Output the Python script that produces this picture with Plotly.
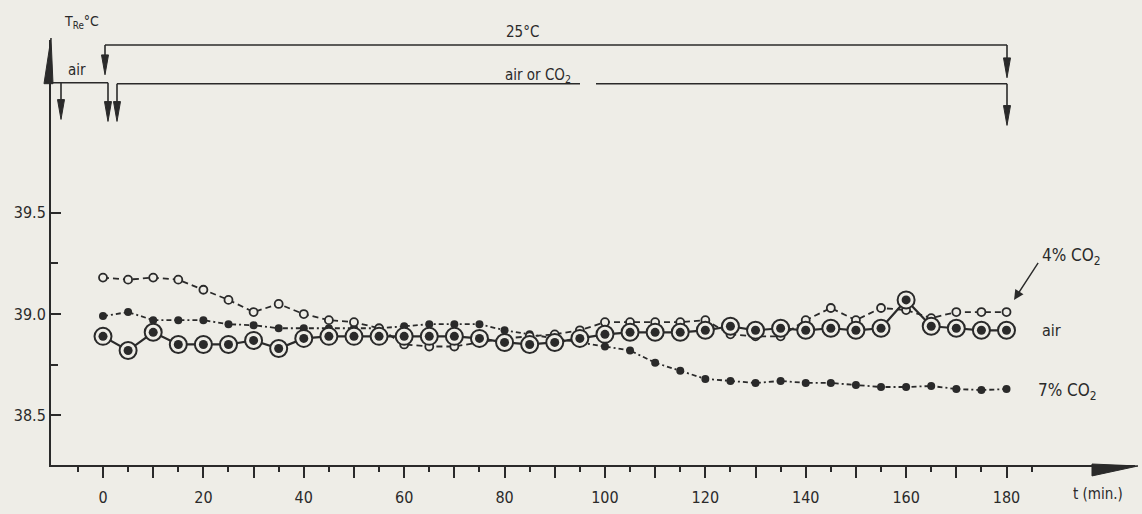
import plotly.graph_objects as go

# ---------------- data ----------------
t_min = [0, 5, 10, 15, 20, 25, 30, 35, 40, 45, 50, 55, 60, 65, 70, 75, 80, 85,
         90, 95, 100, 105, 110, 115, 120, 125, 130, 135, 140, 145, 150, 155,
         160, 165, 170, 175, 180]

temp_air = [38.89, 38.82, 38.91, 38.85, 38.85, 38.85, 38.87, 38.83, 38.88, 38.89,
            38.89, 38.89, 38.89, 38.89, 38.89, 38.88, 38.86, 38.85, 38.86, 38.88,
            38.90, 38.91, 38.91, 38.91, 38.92, 38.94, 38.92, 38.93, 38.92, 38.93,
            38.92, 38.93, 39.07, 38.94, 38.93, 38.92, 38.92]

temp_co2_4 = [39.18, 39.17, 39.18, 39.17, 39.12, 39.07, 39.01, 39.05, 39.00, 38.97,
              38.96, 38.93, 38.85, 38.84, 38.84, 38.86, 38.88, 38.89, 38.90, 38.92,
              38.96, 38.96, 38.96, 38.96, 38.97, 38.90, 38.89, 38.89, 38.97, 39.03,
              38.97, 39.03, 39.02, 38.98, 39.01, 39.01, 39.01]

temp_co2_7 = [38.99, 39.01, 38.97, 38.97, 38.97, 38.95, 38.945, 38.93, 38.93, 38.93,
              38.93, 38.93, 38.94, 38.95, 38.95, 38.95, 38.92, 38.90, 38.88, 38.86,
              38.84, 38.82, 38.76, 38.72, 38.68, 38.67, 38.66, 38.67, 38.66, 38.66,
              38.65, 38.64, 38.64, 38.645, 38.63, 38.625, 38.63]

x_major_ticks = [0, 10, 20, 30, 40, 50, 60, 70, 80, 90, 100, 110, 120, 130, 140,
                 150, 160, 170, 180]
x_major_text = ["0", "", "20", "", "40", "", "60", "", "80", "", "100", "", "120",
                "", "140", "", "160", "", "180"]
x_minor_ticks = [-5, 5, 15, 25, 35, 45, 55, 65, 75, 85, 95, 105, 115, 125, 135,
                 145, 155, 165, 175, 185]
y_major_ticks = [38.5, 39.0, 39.5]
y_major_text = ["38.5", "39.0", "39.5"]
y_minor_ticks = [38.75, 39.25]

# ---------------- style ----------------
INK = "#2a2a2a"
PAPER = "#eeede7"
FONT = "DejaVu Sans Condensed, DejaVu Sans, sans-serif"

W, H = 1142, 514
ML, MR, MT, MB = 51, 7, 40, 46
PW, PH = W - ML - MR, H - MT - MB


def px(x):
    return (x - ML) / PW


def py(y):
    return (H - MB - y) / PH


fig = go.Figure()

# 7 % CO2 : filled dots, dash-dot line
fig.add_trace(go.Scatter(
    x=t_min, y=temp_co2_7, mode="lines+markers", name="7% CO2",
    line=dict(color=INK, width=1.8, dash="5px,3px,2px,3px"),
    marker=dict(symbol="circle", size=8, color=INK),
))

# 4 % CO2 : small open circles, dashed line
fig.add_trace(go.Scatter(
    x=t_min, y=temp_co2_4, mode="lines+markers", name="4% CO2",
    line=dict(color=INK, width=1.8, dash="6px,4px"),
    marker=dict(symbol="circle", size=8, color=PAPER,
                line=dict(color=INK, width=1.8)),
))

# air : bull's-eye circles, solid line
fig.add_trace(go.Scatter(
    x=t_min, y=temp_air, mode="lines+markers", name="air",
    line=dict(color=INK, width=2.2),
    marker=dict(symbol="circle", size=17, color=PAPER,
                line=dict(color=INK, width=2)),
))
fig.add_trace(go.Scatter(
    x=t_min, y=temp_air, mode="markers", name="air (centre)",
    marker=dict(symbol="circle", size=9, color=INK),
    hoverinfo="skip",
))

shapes = []
annotations = []


def hline(x0, x1, y, w=1.6):
    shapes.append(dict(type="line", xref="paper", yref="paper",
                       x0=px(x0), x1=px(x1), y0=py(y), y1=py(y),
                       line=dict(color=INK, width=w)))


def drop_arrow(x, y0, y1):
    # vertical shaft and narrow filled wedge head (pixel positions -> paper)
    head = 20
    shapes.append(dict(type="line", xref="paper", yref="paper",
                       x0=px(x), x1=px(x), y0=py(y0), y1=py(y1 - head + 2),
                       line=dict(color=INK, width=1.6)))
    path = "M {:.5f},{:.5f} L {:.5f},{:.5f} L {:.5f},{:.5f} Z".format(
        px(x - 3.5), py(y1 - head), px(x + 3.5), py(y1 - head), px(x), py(y1))
    shapes.append(dict(type="path", xref="paper", yref="paper", path=path,
                       fillcolor=INK, line=dict(color=INK, width=1)))


# 25 °C bracket
hline(105, 1007, 45)
drop_arrow(105, 45, 75)
drop_arrow(1007, 45, 78)
# air / air or CO2 bracket
hline(51, 108, 83)
drop_arrow(61, 83, 120)
drop_arrow(108, 83, 122)
hline(117, 580, 84)
hline(596, 1007, 84)
drop_arrow(117, 84, 122)
drop_arrow(1007, 84, 126)

# axis arrow heads
shapes.append(dict(type="path", xref="paper", yref="paper",
                   path="M {:.5f},{:.5f} L {:.5f},{:.5f} L {:.5f},{:.5f} Z".format(
                       px(44), py(84), px(53), py(84), px(51), py(38)),
                   fillcolor=INK, line=dict(color=INK, width=1)))
shapes.append(dict(type="path", xref="paper", yref="paper",
                   path="M {:.5f},{:.5f} L {:.5f},{:.5f} L {:.5f},{:.5f} Z".format(
                       px(1092), py(467), px(1092), py(479), px(1138), py(469)),
                   fillcolor=INK, line=dict(color=INK, width=1)))


def label(text, x, y, xanchor="center", yanchor="middle", size=15):
    annotations.append(dict(text=text, xref="paper", yref="paper",
                            x=px(x), y=py(y), xanchor=xanchor, yanchor=yanchor,
                            showarrow=False,
                            font=dict(family=FONT, size=size, color=INK)))


label("T<sub>Re</sub>°C", 62, 22, xanchor="left", size=14)
label("25°C", 522, 32)
label("air", 66, 70, xanchor="left")
label("air or CO<sub>2</sub>", 538, 76)
label("4% CO<sub>2</sub>", 1040, 258, xanchor="left", size=17)
label("air", 1040, 333, xanchor="left", size=16)
label("7% CO<sub>2</sub>", 1036, 394, xanchor="left", size=17)
label("t (min.)", 1098, 497, size=15)

# arrow pointing to the 4 % CO2 curve
annotations.append(dict(text="", x=181.5, y=39.07, ax=186.5, ay=39.26,
                        xref="x", yref="y", axref="x", ayref="y",
                        showarrow=True, arrowhead=2, arrowsize=1.4,
                        arrowwidth=1.4, arrowcolor=INK, standoff=0))

fig.update_layout(
    width=W, height=H, autosize=False,
    margin=dict(l=ML, r=MR, t=MT, b=MB, pad=0),
    paper_bgcolor=PAPER, plot_bgcolor=PAPER,
    showlegend=False,
    font=dict(family=FONT, color=INK, size=14),
    shapes=shapes, annotations=annotations,
    xaxis=dict(
        range=[-10.36, 205.6], showgrid=False, zeroline=False,
        showline=True, linecolor=INK, linewidth=2,
        tickmode="array", tickvals=x_major_ticks, ticktext=x_major_text,
        ticks="outside", ticklen=11, tickwidth=2, tickcolor=INK,
        ticklabelstandoff=6,
        tickfont=dict(family=FONT, size=16, color=INK),
        minor=dict(tickmode="array", tickvals=x_minor_ticks, ticks="outside",
                   ticklen=5, tickwidth=2, tickcolor=INK, showgrid=False),
    ),
    yaxis=dict(
        range=[38.255, 40.353], showgrid=False, zeroline=False,
        showline=True, linecolor=INK, linewidth=2,
        tickmode="array", tickvals=y_major_ticks, ticktext=y_major_text,
        ticks="inside", ticklen=10, tickwidth=2, tickcolor=INK,
        tickfont=dict(family=FONT, size=16, color=INK),
        minor=dict(tickmode="array", tickvals=y_minor_ticks, ticks="inside",
                   ticklen=7, tickwidth=2, tickcolor=INK, showgrid=False),
    ),
)

fig.write_html(
    "out.html",
    config={"displayModeBar": False},
    post_script="document.body.style.margin='0';"
                "document.body.style.overflow='hidden';"
                "document.body.style.background='" + PAPER + "';",
)
